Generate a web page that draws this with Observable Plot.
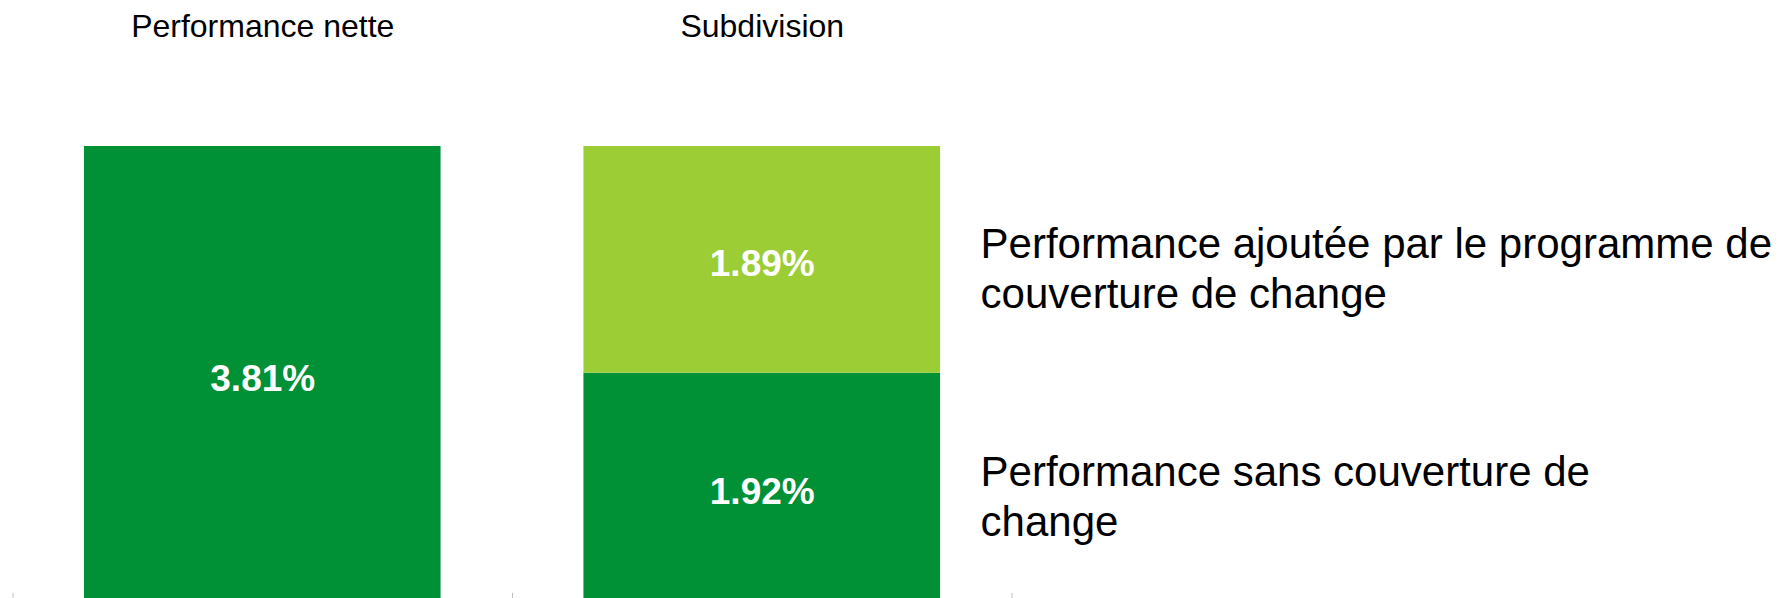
<!DOCTYPE html>
<html>
<head>
<meta charset="utf-8">
<script src="https://cdn.jsdelivr.net/npm/d3@7"></script>
<script src="https://cdn.jsdelivr.net/npm/@observablehq/plot@0.6"></script>
<style>
  html, body { margin: 0; padding: 0; background: #ffffff; }
  #chart svg { display: block; }
</style>
</head>
<body>
<div id="chart"></div>
<script>
// Categories (columns) and their titles
const categories = ["Performance nette", "Subdivision"];
// Series
const seriesNames = [
  "Performance nette",
  "Performance sans couverture de change",
  "Performance ajoutée par le programme de couverture de change"
];
const legendLabels = [
  "",
  "Performance sans couverture de\nchange",
  "Performance ajoutée par le programme de\ncouverture de change"
];
// Values (%)
const netValues = [3.81];
const subdivisionValues = [1.92, 1.89];
const seriesColors = ["#009036", "#009036", "#9ccd34"];

const rows = [
  {cat: 0, series: seriesNames[0], value: netValues[0], legend: legendLabels[0]},
  {cat: 1, series: seriesNames[1], value: subdivisionValues[0], legend: legendLabels[1]},
  {cat: 1, series: seriesNames[2], value: subdivisionValues[1], legend: legendLabels[2]}
];
const subRows = rows.filter(d => d.cat === 1);
const pad = 0.143;
const font = "'Liberation Sans', Arial, Helvetica, sans-serif";

const chart = Plot.plot({
  width: 1787,
  height: 598,
  marginTop: 0,
  marginRight: 0,
  marginLeft: 0,
  marginBottom: 5,
  style: {fontFamily: font, background: "#ffffff", overflow: "visible"},
  x: {domain: [0, 2], range: [12.5, 1011.5], axis: null},
  y: {domain: [0, d3.sum(netValues)], range: [603, 146], axis: null},
  color: {domain: seriesNames, range: seriesColors},
  marks: [
    Plot.rectY(rows, Plot.stackY({
      x1: d => d.cat + pad,
      x2: d => d.cat + 1 - pad,
      x: d => d.cat,
      y: "value",
      fill: "series"
    })),
    Plot.text(rows, Plot.stackY({
      x: d => d.cat + 0.5,
      y: "value",
      text: d => d.value.toFixed(2) + "%",
      fill: "#ffffff",
      fontWeight: "bold",
      fontSize: 37,
      dy: 4
    })),
    Plot.text(subRows, Plot.stackY({
      x: d => d.cat + 1 - pad,
      y: "value",
      text: "legend",
      textAnchor: "start",
      lineAnchor: "middle",
      lineHeight: 1.19,
      fill: "#000000",
      fontSize: 42,
      dx: 40,
      dy: 7
    })),
    Plot.text(categories, {
      x: (d, i) => i + 0.5,
      frameAnchor: "top",
      lineAnchor: "top",
      text: d => d,
      fill: "#000000",
      fontSize: 32,
      dy: 14
    }),
    Plot.axisX({
      ticks: [0, 1, 2],
      tickSize: 5,
      tickFormat: () => "",
      stroke: "#bfbfbf",
      anchor: "bottom"
    })
  ]
});
document.getElementById("chart").appendChild(chart);
</script>
</body>
</html>
